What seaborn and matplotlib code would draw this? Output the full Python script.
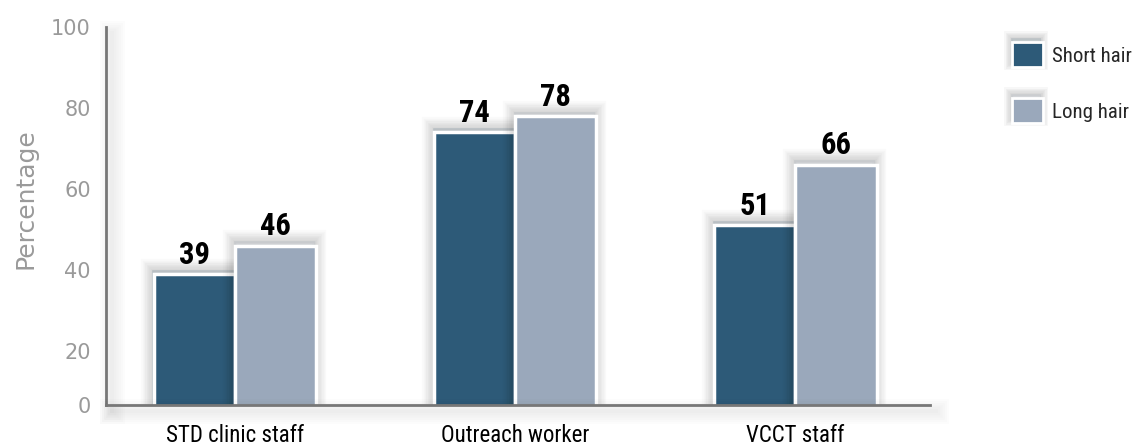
import pandas as pd
import seaborn as sns
import matplotlib.pyplot as plt
import matplotlib.patheffects as pe
from matplotlib.patches import Patch
from matplotlib import font_manager

# data
groups = ["STD clinic staff", "Outreach worker", "VCCT staff"]
short_hair = [39, 74, 51]
long_hair = [46, 78, 66]
series = ["Short hair", "Long hair"]
colors = ["#2d5a78", "#9aa8bb"]
ytick_vals = [6.6, 20, 40, 60, 80, 100]
ytick_text = ["0", "20", "40", "60", "80", "100"]

df = pd.DataFrame({
    "group": groups * 2,
    "series": [series[0]] * 3 + [series[1]] * 3,
    "value": short_hair + long_hair,
})

sns.set_style("white")

# pick a narrow font if one is installed
names = {f.name for f in font_manager.fontManager.ttflist}
narrow = "DejaVu Sans"
for cand in ["Liberation Sans Narrow", "Roboto Condensed", "Open Sans Condensed",
             "Noto Sans Condensed", "DejaVu Sans Condensed"]:
    if cand in names:
        narrow = cand
        break
plt.rcParams["font.family"] = [narrow, "DejaVu Sans"]
plt.rcParams["font.stretch"] = "condensed"

W, H = 1141, 447
fig = plt.figure(figsize=(W / 100, H / 100), dpi=100)
ax = fig.add_axes([106 / W, 1 - 405 / H, (930 - 106) / W, (405 - 27) / H])

sns.barplot(data=df, x="group", y="value", hue="series", palette=colors,
            saturation=1, width=0.58, edgecolor="white", linewidth=2.5, ax=ax,
            legend=False, errorbar=None)

# blurred shadow, drawn as stacked faint strokes, leaning up and left
def soft_shadow(n=8, step=2, alpha=0.02, off=(-1, 3)):
    fx = [pe.Stroke(offset=off, linewidth=step * k, foreground="black", alpha=alpha)
          for k in range(n, 0, -1)]
    return fx + [pe.Normal()]

for p in ax.patches:
    p.set_path_effects(soft_shadow())

for cont in ax.containers:
    ax.bar_label(cont, padding=3, fontsize=22, fontweight="bold", color="black")

ax.set_xlim(-0.46, 2.48)
ax.set_ylim(6.6, 100)
ax.set_yticks(ytick_vals)
ax.set_yticklabels(ytick_text, family="DejaVu Sans", stretch="normal",
                   fontsize=15, color="#9a9a9a")
ax.set_xticks([0, 1, 2])
ax.set_xticklabels(groups, fontsize=16.5, color="black")
ax.set_xticks([0.5, 1.5, 2.48], minor=True)
ax.tick_params(axis="x", which="major", length=0, pad=14)
ax.tick_params(axis="x", which="minor", length=7, width=2, color="#777777", direction="out")
ax.tick_params(axis="y", length=7, width=2, color="#777777", direction="out", pad=4)
ax.set_xlabel("")
ax.set_ylabel("")
for s in ["top", "right"]:
    ax.spines[s].set_visible(False)
for s in ["left", "bottom"]:
    ax.spines[s].set_color("#777777")
    ax.spines[s].set_linewidth(2)
    ax.spines[s].set_path_effects(soft_shadow(n=6, step=3, alpha=0.012, off=(4, -4)))

fig.text(25 / W, 1 - 199 / H, "Percentage", rotation=90, ha="center", va="center",
         family="DejaVu Sans", stretch="normal", fontsize=18, color="#9a9a9a")

handles = [Patch(facecolor=c, edgecolor="white", linewidth=2, label=l)
           for c, l in zip(colors, series)]
leg = fig.legend(handles=handles, loc="upper left", bbox_to_anchor=(1004 / W, 1 - 34 / H),
                 frameon=False, fontsize=15, handlelength=1.45, handleheight=1.45,
                 labelspacing=1.5, handletextpad=0.45, borderaxespad=0)
for h in leg.legend_handles:
    h.set_path_effects(soft_shadow(n=5, step=2, alpha=0.03, off=(-1, 3)))

fig.savefig("out.png", dpi=100)
